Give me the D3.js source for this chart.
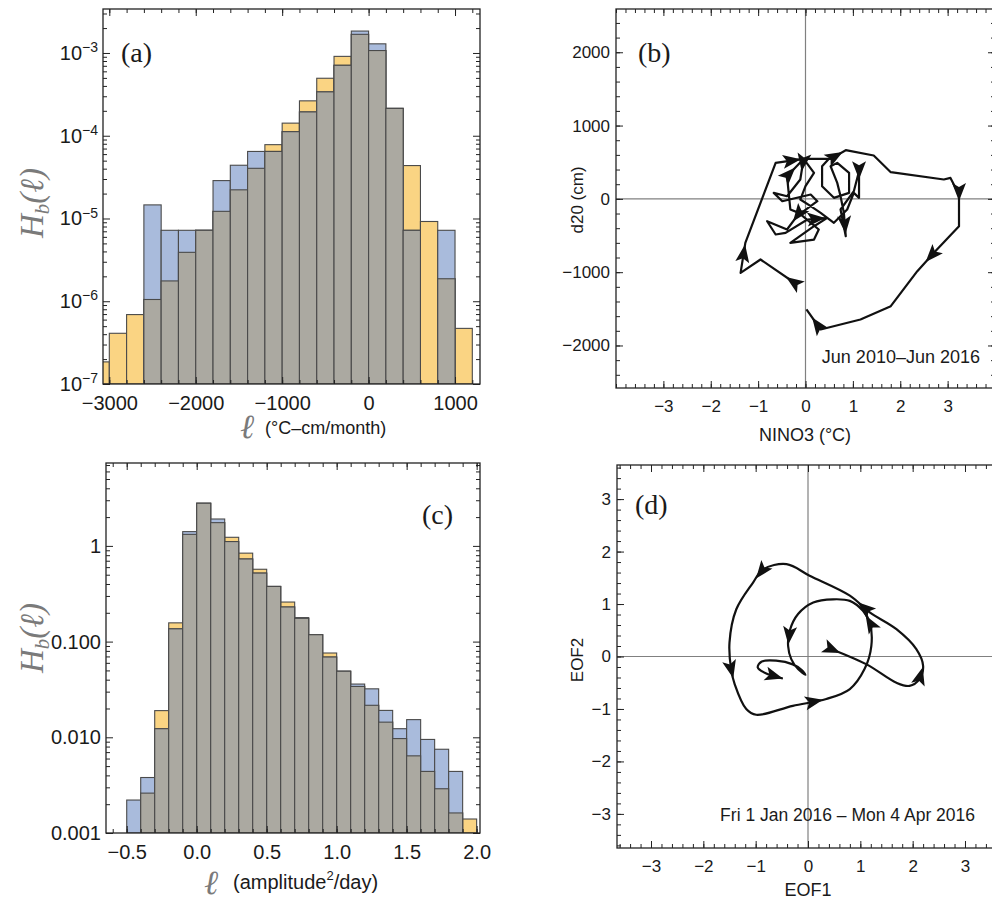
<!DOCTYPE html>
<meta charset="utf-8">
<script src="https://d3js.org/d3.v7.min.js"></script>
<style>
  body { margin: 0; background: #fff; }
</style>
<div id="chart"></div>
<script>

// ---------- data ----------
// (a) histogram, bins of 200 starting at -3200
var aBinStart = -3200, aBinWidth = 200;
var aYellow = [1.85e-7, 4.1e-7, 6.9e-7, 1.05e-6, 1.76e-6, 3.9e-6, 7.2e-6, 1.22e-5, 2.22e-5, 4.04e-5, 7.8e-5,
               1.42e-4, 2.64e-4, 4.95e-4, 9.1e-4, 1.68e-3, 1.07e-3, 2.14e-4, 4.36e-5, 9.2e-6, 1.87e-6, 4.7e-7];
var aBlue   = [0, 0, 0, 1.46e-5, 7.2e-6, 7.2e-6, 7.2e-6, 2.87e-5, 4.4e-5, 6.46e-5, 6.46e-5,
               1.12e-4, 1.94e-4, 3.39e-4, 7.1e-4, 1.84e-3, 1.29e-3, 2.14e-4, 7.2e-6, 0, 7.2e-6, 0];
var aXTicks = [-3000, -2000, -1000, 0, 1000];
var aYTicks = [1e-7, 1e-6, 1e-5, 1e-4, 1e-3];

// (c) histogram, bins of 0.1 starting at -0.5
var cBinStart = -0.5, cBinWidth = 0.1;
var cYellow = [0, 0.00261, 0.019, 0.157, 1.32, 2.79, 1.75, 1.23, 0.84, 0.57, 0.377, 0.259, 0.175,
               0.118, 0.076, 0.049, 0.034, 0.0216, 0.0144, 0.0097, 0.0064, 0.0044, 0.0029, 0.00162, 0.0014];
var cBlue   = [0.00221, 0.0038, 0.0123, 0.136, 1.41, 2.79, 1.91, 1.11, 0.73, 0.52, 0.377, 0.23, 0.178,
               0.118, 0.069, 0.049, 0.036, 0.0321, 0.0191, 0.0123, 0.0153, 0.0095, 0.0075, 0.0044, 0];
var cXTicks = [-0.5, 0, 0.5, 1, 1.5, 2];
var cYTicks = [0.001, 0.01, 0.1, 1];
var cYLabels = ["0.001", "0.010", "0.100", "1"];

// (b) NINO3 vs d20 trajectory
var bNino3 = [-0.18, -0.95, -1.37, -1.27, -0.95, -0.63, -0.04, -0.11, -0.39, -0.67, -0.49, 0.11, 0.25, -0.18,
              -0.39, -0.81, -0.63, -0.42, 0.04, 0.46, 0.18, -0.32, 0.18, 0.28, -0.14, -0.32, -0.39, -0.04,
              0.49, 0.35, 0.35, 0.60, 0.92, 0.92, 0.67, 0.53, 0.67, 0.74, 0.81, 0.85, 0.74, 1.02, 1.13,
              1.13, 1.02, 0.88, 0.60, 0.32, 0.11, -0.11, 0.0, 0.18, -0.04, 0.53, 0.85, 1.44, 1.80, 2.92,
              3.06, 3.24, 3.24, 2.71, 2.36, 1.80, 1.16, 0.32, 0.02];
var bD20 = [-1168, -827, -1009, -600, -55, 491, 545, 264, 36, 82, -32, 59, -32, -236, -418, -305, -486,
            -464, -282, -259, -373, -600, -555, -418, -191, -145, 309, 545, 545, 445, 173, 14, 82, 355,
            491, 445, 218, 36, -191, -509, -145, 105, 377, 14, 82, -145, -327, -191, -100, -9, 173, 355,
            545, 545, 664, 591, 364, 264, 286, 59, -373, -736, -986, -1464, -1645, -1782, -1509];
var bArrows = [[0, 0.3], [2, 0.95], [5, 0.9], [6, 0.6], [13, 0.4], [18, 0.9], [26, 0.5], [38, 0.9],
               [42, 0.3], [53, 0.8], [59, 0.2], [61, 0.5], [65, 0.6]];
var bXTicks = [-3, -2, -1, 0, 1, 2, 3];
var bYTicks = [-2000, -1000, 0, 1000, 2000];

// (d) EOF1 vs EOF2 trajectory
var dEof1 = [0.45, 1.12, 1.69, 1.94, 2.13, 2.20, 2.07, 1.69, 1.18, 0.80, 0.03, -0.41, -0.86, -1.05, -1.37,
             -1.50, -1.47, -1.40, -1.18, -0.99, -0.29, 0.35, 0.80, 1.08, 1.21, 1.18, 1.05, 0.80, 0.48, 0.10,
             -0.19, -0.35, -0.38, -0.32, -0.19, -0.05, -0.12, -0.29, -0.61, -0.89, -0.96, -0.76, -0.48];
var dEof2 = [0.14, -0.15, -0.50, -0.56, -0.43, -0.18, 0.14, 0.52, 0.84, 1.16, 1.54, 1.76, 1.66, 1.41, 0.90,
             0.27, -0.24, -0.53, -1.00, -1.11, -0.94, -0.81, -0.62, -0.24, 0.20, 0.65, 0.87, 1.06, 1.09, 1.03,
             0.81, 0.49, 0.20, -0.05, -0.24, -0.35, -0.26, -0.15, -0.08, -0.10, -0.21, -0.34, -0.42];
var dArrows = [[0, 0.25], [4, 0.9], [8, 0.6], [12, 0.7], [16, 0.6], [20, 0.9], [25, 0.6], [31, 0.9], [41, 1.0]];
var dTicks = [-3, -2, -1, 0, 1, 2, 3];

// ---------- setup ----------
var SANS = "'Liberation Sans', Arial, Helvetica, sans-serif";
var SERIF = "'Liberation Serif', 'Times New Roman', 'DejaVu Serif', serif";

var svg = d3.select("#chart").append("svg")
    .attr("width", 992)
    .attr("height", 903)
    .style("font-family", SANS);

var clipId = 0;
function panel(left, top, w, h) {
  var g = svg.append("g").attr("transform", "translate(" + left + "," + top + ")");
  var id = "clip" + (clipId++);
  g.append("clipPath").attr("id", id).append("rect").attr("width", w).attr("height", h);
  g.clip = "url(#" + id + ")";
  return g;
}

function logMinor(lo, hi) {
  var out = [];
  for (var e = Math.floor(Math.log10(lo)); e <= Math.ceil(Math.log10(hi)); e++)
    for (var k = 2; k <= 9; k++) {
      var v = k * Math.pow(10, e);
      if (v >= lo && v <= hi) out.push(v);
    }
  return out;
}

// frame with inward ticks on all four sides (Mathematica style)
function frame(g, x, y, w, h, o) {
  function ax(axis, tx, ty, vals, size, fmt, pad) {
    var a = g.append("g")
        .attr("transform", "translate(" + tx + "," + ty + ")")
        .call(axis.tickValues(vals).tickSizeInner(-size).tickSizeOuter(0)
              .tickPadding(pad || 0).tickFormat(fmt || ""));
    a.select(".domain").remove();
    a.selectAll(".tick line").attr("stroke", "#222").attr("stroke-width", 1);
    a.attr("font-size", o.fs).attr("font-family", null);
    a.selectAll("text").attr("fill", "#1a1a1a");
    return a;
  }
  ax(d3.axisBottom(x), 0, h, o.xMinor, 4);
  ax(d3.axisTop(x), 0, 0, o.xMinor, 4);
  var xl = ax(d3.axisBottom(x), 0, h, o.xMajor, 7, o.xFmt, o.xPad);
  ax(d3.axisTop(x), 0, 0, o.xMajor, 7);
  ax(d3.axisLeft(y), 0, 0, o.yMinor, 4);
  ax(d3.axisRight(y), w, 0, o.yMinor, 4);
  var yl = ax(d3.axisLeft(y), 0, 0, o.yMajor, 7, o.yFmt, o.yPad);
  ax(d3.axisRight(y), w, 0, o.yMajor, 7);
  g.append("rect")
      .attr("width", w).attr("height", h)
      .attr("fill", "none").attr("stroke", "#222").attr("stroke-width", 1.3);
  return {x: xl, y: yl};
}

var YELLOW = "#fad483", BLUE = "#a9bbdc", GRAY = "#aba9a1";

function bars(g, vals, x, y, x0, bw, fill) {
  var h = y.range()[0];
  g.append("g").attr("clip-path", g.clip)
    .selectAll("rect")
    .data(vals.map(function(v, i) { return {v: v, i: i}; }).filter(function(d) { return d.v > 0; }))
    .join("rect")
      .attr("x", function(d) { return x(x0 + d.i * bw); })
      .attr("width", function(d) { return x(x0 + (d.i + 1) * bw) - x(x0 + d.i * bw); })
      .attr("y", function(d) { return y(d.v); })
      .attr("height", function(d) { return h - y(d.v); })
      .attr("fill", fill)
      .attr("stroke", "#4a4a4a")
      .attr("stroke-width", 1.1);
}

function overlap(a, b) {
  return a.map(function(v, i) { return (v > 0 && b[i] > 0) ? d3.min([v, b[i]]) : 0; });
}

function hbLabel(cx, cy) {
  var t = svg.append("text")
      .attr("transform", "translate(" + cx + "," + cy + ") rotate(-90)")
      .attr("text-anchor", "middle")
      .attr("font-family", SERIF)
      .attr("font-style", "italic")
      .attr("font-size", 33)
      .attr("fill", "#7a7a7a");
  t.append("tspan").text("H");
  t.append("tspan").attr("font-size", 21).attr("dy", 6).text("b");
  t.append("tspan").attr("dy", -6).text("(\u2113)");
}

function ellLabel(x, y, unitsX, unitsY, fs) {
  svg.append("text")
      .attr("x", x).attr("y", y)
      .attr("font-family", SERIF)
      .attr("font-style", "italic")
      .attr("font-size", 34)
      .attr("fill", "#7a7a7a")
      .text("\u2113");
  return svg.append("text")
      .attr("x", unitsX).attr("y", unitsY)
      .attr("font-size", fs)
      .attr("fill", "#1a1a1a");
}

function panelTag(x, y, s) {
  svg.append("text").attr("x", x).attr("y", y)
      .attr("font-family", SERIF).attr("font-size", 28).attr("fill", "#1a1a1a")
      .text(s);
}

// ---------- (a) ----------
(function() {
  var w = 377, h = 375;
  var g = panel(103, 9, w, h);
  var x = d3.scaleLinear().domain([-3073, 1289]).range([0, w]);
  var y = d3.scaleLog().domain([1e-7, 3.4e-3]).range([h, 0]);
  bars(g, aYellow, x, y, aBinStart, aBinWidth, YELLOW);
  bars(g, aBlue, x, y, aBinStart, aBinWidth, BLUE);
  bars(g, overlap(aYellow, aBlue), x, y, aBinStart, aBinWidth, GRAY);
  var ax = frame(g, x, y, w, h, {
    fs: 20,
    xMajor: aXTicks, xMinor: d3.range(-3000, 1201, 200), xFmt: d3.format("d"), xPad: 12,
    yMajor: aYTicks, yMinor: logMinor(1e-7, 3.4e-3), yFmt: function() { return ""; }, yPad: 5
  });
  ax.y.selectAll("text").each(function(d) {
    var e = Math.round(Math.log10(d));
    var t = d3.select(this);
    t.append("tspan").text("10");
    t.append("tspan").attr("font-size", 14).attr("dy", "-0.55em").text("\u2212" + Math.abs(e));
  });
})();
panelTag(121, 62, "(a)");
hbLabel(43, 203);
ellLabel(240, 438, 265, 434, 18).text("(\u00b0C\u2013cm/month)");

// ---------- (c) ----------
(function() {
  var w = 374, h = 370;
  var g = panel(106, 463, w, h);
  var x = d3.scaleLinear().domain([-0.648, 2.024]).range([0, w]);
  var y = d3.scaleLog().domain([0.001, 7.35]).range([h, 0]);
  bars(g, cYellow, x, y, cBinStart, cBinWidth, YELLOW);
  bars(g, cBlue, x, y, cBinStart, cBinWidth, BLUE);
  bars(g, overlap(cYellow, cBlue), x, y, cBinStart, cBinWidth, GRAY);
  frame(g, x, y, w, h, {
    fs: 20,
    xMajor: cXTicks, xMinor: d3.range(-6, 21).map(function(i) { return i / 10; }), xFmt: d3.format(".1f"), xPad: 12,
    yMajor: cYTicks, yMinor: logMinor(0.001, 7.35),
    yFmt: function(d, i) { return cYLabels[i]; }, yPad: 5
  });
})();
panelTag(422, 524, "(c)");
hbLabel(43, 638);
var cu = ellLabel(204, 894, 233, 889, 20);
cu.append("tspan").text("(amplitude");
cu.append("tspan").attr("font-size", 13).attr("dy", -9).text("2");
cu.append("tspan").attr("dy", 9).text("/day)");

// ---------- trajectory panels ----------
function arrowHeads(g, pts, list) {
  g.append("g").attr("clip-path", g.clip)
    .selectAll("path")
    .data(list)
    .join("path")
      .attr("d", "M0,0L-18,-7L-14,0L-18,7Z")
      .attr("fill", "#111")
      .attr("transform", function(a) {
        var p0 = pts[a[0]], p1 = pts[a[0] + 1];
        var px = p0[0] + a[1] * (p1[0] - p0[0]), py = p0[1] + a[1] * (p1[1] - p0[1]);
        var ang = Math.atan2(p1[1] - p0[1], p1[0] - p0[0]) * 180 / Math.PI;
        return "translate(" + px + "," + py + ") rotate(" + ang + ")";
      });
}

function zeroLines(g, x, y, w, h) {
  g.append("line").attr("x1", x(0)).attr("x2", x(0)).attr("y1", 0).attr("y2", h)
      .attr("stroke", "#808080").attr("stroke-width", 1.2);
  g.append("line").attr("x1", 0).attr("x2", w).attr("y1", y(0)).attr("y2", y(0))
      .attr("stroke", "#808080").attr("stroke-width", 1.2);
}

// ---------- (b) ----------
(function() {
  var w = 379, h = 379;
  var g = panel(616, 9, w, h);
  var x = d3.scaleLinear().domain([-4, 4]).range([0, w]);
  var y = d3.scaleLinear().domain([-2580, 2590]).range([h, 0]);
  zeroLines(g, x, y, w, h);
  var pts = bNino3.map(function(v, i) { return [x(v), y(bD20[i])]; });
  g.append("path").attr("clip-path", g.clip)
      .attr("d", d3.line()(pts))
      .attr("fill", "none").attr("stroke", "#111").attr("stroke-width", 2.2)
      .attr("stroke-linejoin", "round");
  arrowHeads(g, pts, bArrows);
  frame(g, x, y, w, h, {
    fs: 17,
    xMajor: bXTicks, xMinor: d3.range(-20, 21).map(function(i) { return i / 5; }), xFmt: d3.format("d"), xPad: 12,
    yMajor: bYTicks, yMinor: d3.range(-2400, 2401, 200), yFmt: d3.format("d"), yPad: 6
  });
  g.append("text").attr("x", 364).attr("y", 354).attr("text-anchor", "end")
      .attr("font-size", 18).attr("fill", "#1a1a1a").text("Jun 2010\u2013Jun 2016");
})();
panelTag(638, 62, "(b)");
svg.append("text").attr("x", 805).attr("y", 441).attr("text-anchor", "middle")
    .attr("font-size", 18).attr("fill", "#1a1a1a").text("NINO3 (\u00b0C)");
svg.append("text").attr("transform", "translate(583,200) rotate(-90)").attr("text-anchor", "middle")
    .attr("font-size", 17).attr("fill", "#1a1a1a").text("d20 (cm)");

// ---------- (d) ----------
(function() {
  var w = 382, h = 383;
  var g = panel(617, 465, w, h);
  var x = d3.scaleLinear().domain([-3.65, 3.65]).range([0, w]);
  var y = d3.scaleLinear().domain([-3.65, 3.65]).range([h, 0]);
  zeroLines(g, x, y, w, h);
  var pts = dEof1.map(function(v, i) { return [x(v), y(dEof2[i])]; });
  g.append("path").attr("clip-path", g.clip)
      .attr("d", d3.line().curve(d3.curveCatmullRom.alpha(0.5))(pts))
      .attr("fill", "none").attr("stroke", "#111").attr("stroke-width", 2.2);
  arrowHeads(g, pts, dArrows);
  var minor = d3.range(-18, 19).map(function(i) { return i / 5; });
  frame(g, x, y, w, h, {
    fs: 17,
    xMajor: dTicks, xMinor: minor, xFmt: d3.format("d"), xPad: 12,
    yMajor: dTicks, yMinor: minor, yFmt: d3.format("d"), yPad: 6
  });
  g.append("text").attr("x", 358).attr("y", 356).attr("text-anchor", "end")
      .attr("font-size", 17.5).attr("fill", "#1a1a1a").text("Fri 1 Jan 2016 \u2013 Mon 4 Apr 2016");
})();
panelTag(635, 514, "(d)");
svg.append("text").attr("x", 808).attr("y", 896).attr("text-anchor", "middle")
    .attr("font-size", 18).attr("fill", "#1a1a1a").text("EOF1");
svg.append("text").attr("transform", "translate(583,660) rotate(-90)").attr("text-anchor", "middle")
    .attr("font-size", 17).attr("fill", "#1a1a1a").text("EOF2");

</script>
